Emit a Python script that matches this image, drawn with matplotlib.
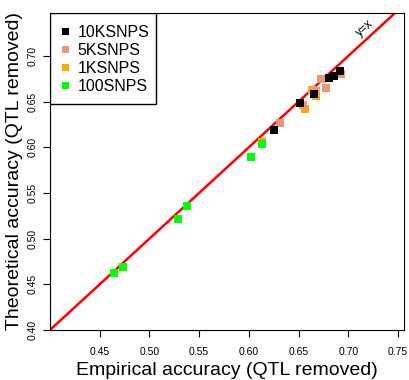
import matplotlib
matplotlib.use("Agg")
import matplotlib.pyplot as plt
from matplotlib.patches import Rectangle

plt.rcParams['font.family'] = ['Liberation Sans', 'DejaVu Sans']

# empirical (x) vs theoretical (y) accuracy
x_1k = [0.663, 0.667, 0.656, 0.613]
y_1k = [0.663, 0.656, 0.642, 0.606]
x_100 = [0.464, 0.473, 0.529, 0.538, 0.602, 0.613]
y_100 = [0.462, 0.469, 0.521, 0.536, 0.589, 0.604]
x_5k = [0.631, 0.654, 0.668, 0.673, 0.678, 0.693]
y_5k = [0.627, 0.646, 0.662, 0.675, 0.665, 0.680]
x_10k = [0.625, 0.651, 0.665, 0.681, 0.686, 0.692]
y_10k = [0.619, 0.649, 0.658, 0.676, 0.678, 0.684]

xticks = [0.45, 0.50, 0.55, 0.60, 0.65, 0.70, 0.75]
yticks = [0.40, 0.45, 0.50, 0.55, 0.60, 0.65, 0.70]

fig = plt.figure(figsize=(4.09, 3.80), dpi=100)
ax = fig.add_axes([0.1222, 0.1316, 0.8656, 0.8342])

ms = 6.3
ax.plot(x_1k, y_1k, 's', color='#FFA500', ms=ms, mew=0, label='1KSNPS')
ax.plot(x_100, y_100, 's', color='#00FF00', ms=ms, mew=0, label='100SNPS')
ax.plot(x_5k, y_5k, 's', color='#E9967A', ms=ms, mew=0, label='5KSNPS')
ax.plot(x_10k, y_10k, 's', color='black', ms=ms, mew=0, label='10KSNPS')

ax.plot([0.3, 0.8], [0.3, 0.8], color='red', lw=1.8, zorder=1)
ax.text(0.717, 0.730, 'y=x', rotation=42, fontsize=8.5, ha='center', va='center')

ax.set_xlim(0.40, 0.756)
ax.set_ylim(0.40, 0.747)
ax.set_xticks(xticks)
ax.set_xticklabels(['%.2f' % v for v in xticks], fontsize=7.5)
ax.set_yticks(yticks)
ax.set_yticklabels(['%.2f' % v for v in yticks], fontsize=7.5, rotation=90, va='center')
ax.tick_params(length=5, width=0.8, pad=7)
ax.tick_params(axis='y', pad=4)

ax.set_xlabel('Empirical accuracy (QTL removed)', fontsize=14, labelpad=4)
ax.set_ylabel('Theoretical accuracy (QTL removed)', fontsize=14, labelpad=3)

# legend box drawn separately so its size can match the original
ax.add_patch(Rectangle((0, 0.713), 0.3, 0.287, transform=ax.transAxes,
                       facecolor='white', edgecolor='black', lw=1.0, zorder=4))
h, l = ax.get_legend_handles_labels()
order = [3, 2, 0, 1]
leg = ax.legend([h[i] for i in order], [l[i] for i in order], loc='upper left',
                bbox_to_anchor=(0.004, 0.985), borderaxespad=0, frameon=False,
                fontsize=11.5, handlelength=0.8, handletextpad=0.4,
                labelspacing=0.19, borderpad=0.45, markerscale=0.8)
leg.set_zorder(5)

fig.savefig('out.png', dpi=100)
